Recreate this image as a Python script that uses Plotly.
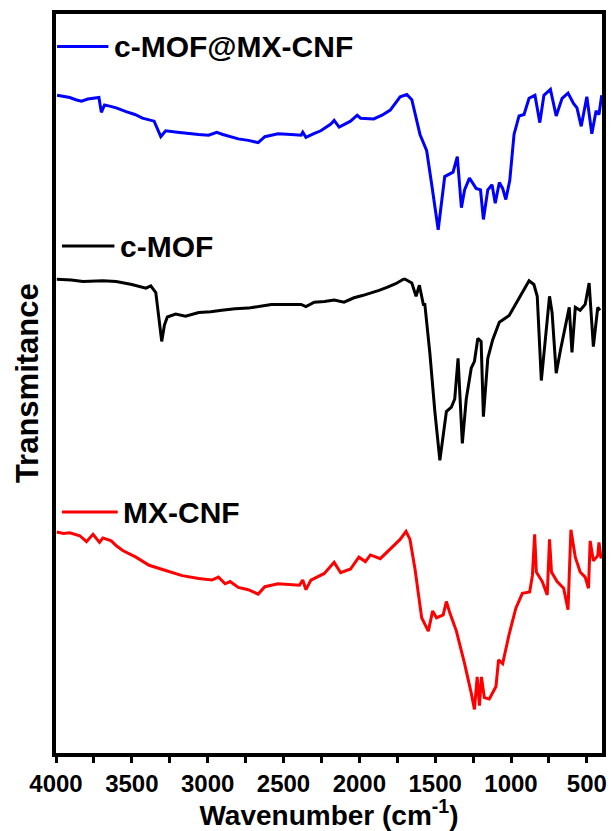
import plotly.graph_objects as go

# FTIR spectra, stacked with vertical offsets (arbitrary transmittance units)
wn_composite = [3993, 3950, 3909, 3870, 3832, 3790, 3734, 3717, 3701, 3680, 3640, 3603, 3538,
                3480, 3430, 3353, 3309, 3277, 3200, 3124, 3060, 2994, 2940, 2900, 2863, 2798,
                2732, 2667, 2623, 2536, 2450, 2384, 2373, 2352, 2300, 2254, 2188, 2166, 2133,
                2058, 2014, 1992, 1905, 1850, 1796, 1731, 1687, 1654, 1600, 1556, 1524, 1480,
                1437, 1382, 1354, 1327, 1306, 1274, 1230, 1201, 1182, 1153, 1125, 1104, 1077,
                1055, 1034, 1008, 980, 947, 914, 881, 842, 810, 783, 740, 702, 663, 624, 588,
                565, 537, 500, 467, 439, 420, 402]
t_composite = [89.0, 88.8, 88.7, 88.4, 88.2, 88.5, 88.6, 88.7, 86.7, 87.7, 87.5, 87.3, 86.8,
               86.4, 85.9, 85.5, 83.4, 84.2, 84.0, 83.8, 83.7, 83.6, 84.0, 83.7, 83.5, 83.1,
               82.9, 82.6, 83.4, 83.8, 83.7, 83.6, 84.0, 83.3, 83.8, 84.2, 85.1, 85.6, 84.7,
               85.5, 86.3, 85.9, 85.8, 86.3, 87.0, 88.8, 89.1, 88.4, 83.7, 81.5, 77.1, 70.8,
               78.0, 78.6, 80.7, 73.8, 76.2, 77.8, 76.4, 76.2, 72.2, 76.2, 76.9, 74.4, 77.2,
               76.4, 74.9, 77.5, 83.7, 86.2, 86.4, 88.6, 89.0, 85.3, 89.0, 89.8, 86.2, 88.6,
               89.3, 87.9, 87.3, 84.8, 88.8, 83.8, 86.9, 86.4, 89.0]

wn_mof = [3995, 3900, 3822, 3750, 3691, 3603, 3500, 3407, 3375, 3342, 3303, 3285, 3266, 3211,
          3146, 3059, 2980, 2907, 2820, 2732, 2650, 2580, 2480, 2384, 2352, 2297, 2230, 2166,
          2101, 2035, 1980, 1927, 1870, 1818, 1760, 1709, 1698, 1654, 1626, 1604, 1578, 1568,
          1535, 1502, 1469, 1426, 1393, 1371, 1349, 1321, 1295, 1262, 1241, 1219, 1197, 1182,
          1153, 1121, 1077, 1012, 960, 925, 881, 849, 827, 800, 772, 746, 729, 702, 674, 642,
          616, 598, 576, 544, 511, 485, 457, 428, 413]
t_mof = [64.1, 64.0, 63.8, 63.9, 63.9, 63.8, 63.4, 62.9, 63.2, 62.3, 55.7, 57.9, 59.0, 59.4,
         59.1, 59.6, 59.7, 59.9, 60.1, 60.2, 60.5, 60.7, 60.7, 60.7, 60.4, 61.0, 61.1, 61.3,
         61.0, 61.6, 61.9, 62.2, 62.6, 63.0, 63.5, 64.1, 64.1, 63.6, 61.8, 63.3, 60.7, 60.7,
         54.1, 46.2, 39.6, 46.2, 46.8, 47.9, 53.4, 41.9, 47.9, 52.1, 53.0, 56.1, 55.7, 45.5,
         53.4, 55.9, 58.3, 59.2, 61.0, 62.3, 63.9, 63.4, 61.8, 50.4, 55.9, 61.8, 59.6, 51.4,
         54.5, 57.7, 60.3, 54.2, 60.3, 59.9, 60.7, 63.6, 55.0, 60.3, 59.9]

wn_mxcnf = [3995, 3950, 3909, 3843, 3799, 3756, 3713, 3691, 3636, 3600, 3560, 3473, 3386, 3330,
            3277, 3168, 3059, 2972, 2929, 2885, 2852, 2798, 2732, 2667, 2623, 2536, 2460, 2395,
            2373, 2352, 2319, 2231, 2166, 2123, 2058, 2003, 1960, 1927, 1862, 1796, 1731, 1692,
            1666, 1633, 1622, 1589, 1545, 1517, 1491, 1447, 1426, 1404, 1360, 1306, 1262, 1241,
            1223, 1208, 1195, 1176, 1143, 1099, 1082, 1055, 1012, 968, 925, 877, 859, 844, 833,
            794, 761, 746, 733, 696, 653, 624, 605, 576, 544, 511, 489, 478, 457, 428, 420, 406]
t_mxcnf = [29.9, 29.7, 29.8, 29.4, 28.6, 29.6, 28.5, 29.1, 28.7, 28.0, 27.4, 26.5, 25.4, 25.0,
           24.7, 24.0, 23.6, 23.4, 23.8, 22.9, 23.2, 22.4, 22.1, 21.5, 22.5, 22.9, 22.8, 22.7,
           23.4, 22.1, 23.4, 24.3, 25.8, 24.4, 24.9, 26.5, 25.9, 26.8, 26.3, 27.6, 28.9, 30.0,
           28.9, 24.9, 23.2, 18.3, 16.5, 19.2, 18.3, 18.7, 20.5, 19.0, 16.5, 12.1, 8.1, 5.9,
           10.3, 6.4, 10.3, 7.5, 7.3, 9.0, 12.6, 12.1, 16.1, 19.6, 21.6, 21.8, 24.0, 29.6, 24.5,
           23.2, 21.4, 28.9, 24.5, 23.2, 22.3, 19.4, 30.2, 26.5, 24.5, 23.8, 22.3, 28.7, 26.0,
           26.7, 28.5, 26.3]

series_names = ["c-MOF@MX-CNF", "c-MOF", "MX-CNF"]
series_colors = ["#0000FF", "#000000", "#FF0000"]

FONT = "Liberation Sans, Arial, sans-serif"

fig = go.Figure()
for name, color, xs, ys in zip(series_names, series_colors,
                               [wn_composite, wn_mof, wn_mxcnf],
                               [t_composite, t_mof, t_mxcnf]):
    fig.add_trace(go.Scatter(x=xs, y=ys, mode="lines", name=name,
                             line=dict(color=color, width=3), showlegend=False))

# legend keys: short line sample followed by the sample name
key_rows = [(0.956, series_names[0], series_colors[0], 0.002, 0.096),
            (0.686, series_names[1], series_colors[1], 0.011, 0.107),
            (0.326, series_names[2], series_colors[2], 0.011, 0.113)]
for ypos, name, color, x0, x1 in key_rows:
    fig.add_shape(type="line", xref="paper", yref="paper", x0=x0, x1=x1, y0=ypos, y1=ypos,
                  line=dict(color=color, width=3))
    fig.add_annotation(xref="paper", yref="paper", x=x1 + 0.006, y=ypos, text="<b>%s</b>" % name,
                       showarrow=False, xanchor="left", yanchor="middle",
                       font=dict(family=FONT, size=30, color="#000000"))

fig.add_annotation(xref="paper", yref="paper", x=-0.052, y=0.5, text="<b>Transmitance</b>",
                   textangle=-90, showarrow=False, xanchor="center", yanchor="middle",
                   font=dict(family=FONT, size=31, color="#000000"))

fig.update_layout(
    width=616, height=831,
    margin=dict(l=56, r=9, t=14, b=63),
    paper_bgcolor="white", plot_bgcolor="white",
    xaxis=dict(range=[4000, 400], tick0=0, dtick=500,
               ticks="outside", ticklen=6, tickwidth=3, tickcolor="black",
               minor=dict(dtick=250, tick0=0, ticks="outside", ticklen=6, tickwidth=3,
                          tickcolor="black", showgrid=False),
               showline=True, linewidth=4, linecolor="black", mirror=True,
               showgrid=False, zeroline=False,
               tickfont=dict(family=FONT, size=24, color="black", weight="bold"),
               title=dict(text="<b>Wavenumber (cm<sup>-1</sup>)</b>", standoff=6,
                          font=dict(family=FONT, size=28, color="black"))),
    yaxis=dict(range=[0, 100], showticklabels=False, ticks="",
               showline=True, linewidth=4, linecolor="black", mirror=True,
               showgrid=False, zeroline=False),
)

fig.write_html("out.html")
